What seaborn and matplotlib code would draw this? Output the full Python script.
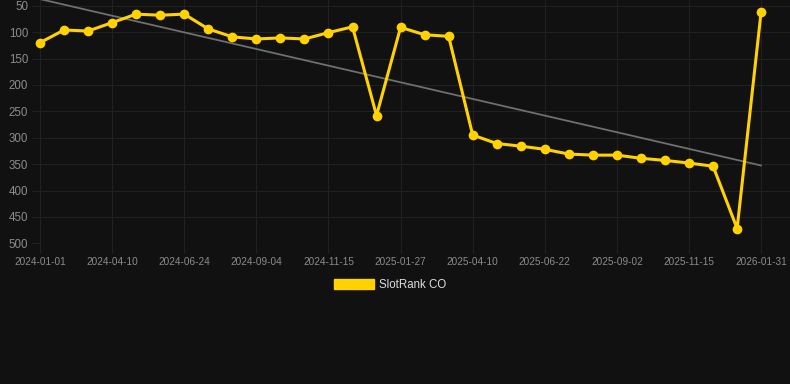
import numpy as np
import pandas as pd
import matplotlib
matplotlib.use("Agg")
import matplotlib.pyplot as plt
from matplotlib.patches import Patch
import seaborn as sns

# rank values (one point per step, category axis)
ranks = [120, 96, 98, 82, 66, 68, 66, 94, 109, 113, 111, 113, 101, 90, 258,
         91, 105, 108, 295, 311, 316, 322, 331, 333, 333, 339, 343, 348, 354,
         472, 61]
tick_labels = ["2024-01-01", "2024-04-10", "2024-06-24", "2024-09-04",
               "2024-11-15", "2025-01-27", "2025-04-10", "2025-06-22",
               "2025-09-02", "2025-11-15", "2026-01-31"]
y_ticks = [50, 100, 150, 200, 250, 300, 350, 400, 450, 500]
series_name = "SlotRank CO"

bg = "#111111"
grid_col = "#212121"
gold = "#FFD200"

df = pd.DataFrame({"idx": np.arange(len(ranks)), "rank": ranks})

# linear trend over the same points
slope, intercept = np.polyfit(df["idx"], df["rank"], 1)
df["trend"] = intercept + slope * df["idx"]

sns.set_theme(style="dark")
plt.rcParams["font.family"] = ["Liberation Sans", "DejaVu Sans"]

fig = plt.figure(figsize=(7.9, 3.84), dpi=100, facecolor=bg)
ax = fig.add_axes([40 / 790, 1 - 243.3 / 384, 750 / 790, 243.3 / 384])
ax.set_facecolor(bg)

sns.lineplot(data=df, x="idx", y="trend", ax=ax, color="#6f6f6f",
             linewidth=1.3, zorder=2, clip_on=True)
sns.lineplot(data=df, x="idx", y="rank", ax=ax, color=gold, linewidth=2.2,
             marker="o", markersize=7, markeredgewidth=0, zorder=3,
             clip_on=False)

ax.set_xlim(0, 31.2)
ax.set_ylim(500, 39.2)
ax.set_xticks(np.arange(0, len(ranks), 3))
ax.set_xticklabels(tick_labels)
ax.set_yticks(y_ticks)
ax.set_xlabel("")
ax.set_ylabel("")

for s in ax.spines.values():
    s.set_visible(False)
ax.grid(True, color=grid_col, linewidth=0.8)
ax.tick_params(axis="y", length=6, width=0.8, color=grid_col, pad=2.5,
               labelsize=8.3, labelcolor="#8c8c8c", left=True)
ax.tick_params(axis="x", length=7, width=0.8, color=grid_col, pad=3,
               labelsize=7.2, labelcolor="#8c8c8c", bottom=True)

handles = [Patch(facecolor=gold, edgecolor=gold)]
fig.legend(handles, [series_name], loc="center", bbox_to_anchor=(0.494, 0.258),
           frameon=False, fontsize=8.3, labelcolor="#dddddd",
           handlelength=3.5, handleheight=1.05, handletextpad=0.45)

fig.savefig("out.png", dpi=100, facecolor=bg)
